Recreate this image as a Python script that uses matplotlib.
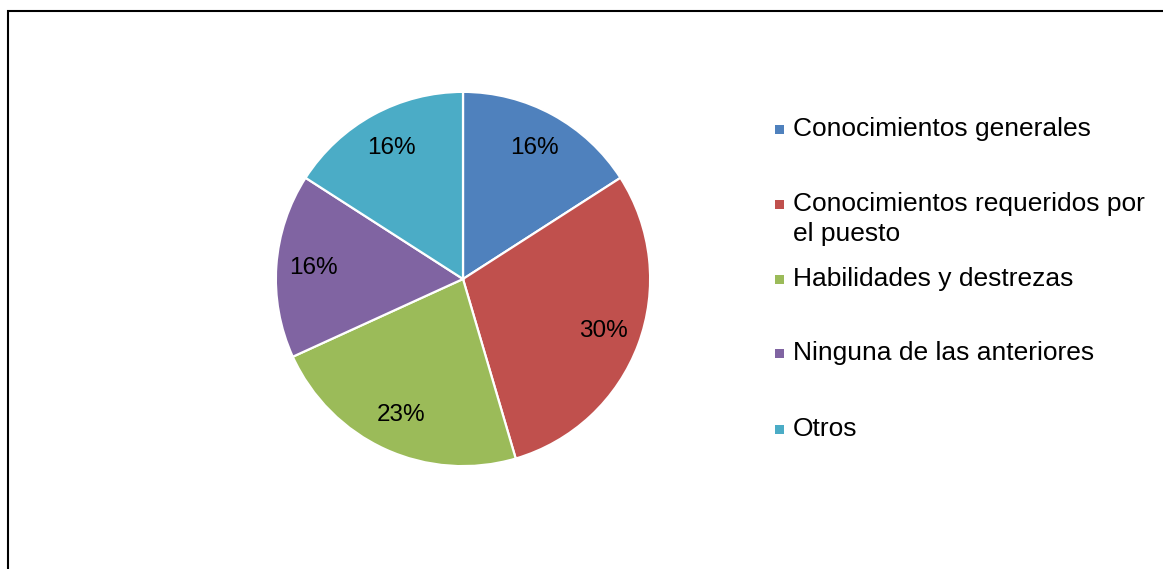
import matplotlib
matplotlib.use("Agg")
import matplotlib.pyplot as plt
from matplotlib.patches import Rectangle

categories = ["Conocimientos generales",
              "Conocimientos requeridos por\nel puesto",
              "Habilidades y destrezas",
              "Ninguna de las anteriores",
              "Otros"]
counts = [7, 13, 10, 7, 7]
colors = ["#4F81BD", "#C0504D", "#9BBB59", "#8064A2", "#4BACC6"]

W, H = 1163, 569
plt.rcParams['font.family'] = ['Liberation Sans', 'DejaVu Sans']
fig = plt.figure(figsize=(W / 100, H / 100), dpi=100)

# Frame around chart area (extends beyond right/bottom edges)
fig.patches.append(Rectangle((7.5 / W, -0.05), 1.2, (H - 10.5) / H + 0.05,
                             transform=fig.transFigure, fill=False,
                             edgecolor='black', linewidth=1.5, clip_on=False))

cx, cy, R = 463, 279, 189
ax = fig.add_axes([(cx - R) / W, (H - cy - R) / H, 2 * R / W, 2 * R / H])
wedges, texts, autotexts = ax.pie(
    counts, colors=colors, startangle=90, counterclock=False,
    autopct=lambda p: f"{p:.0f}%", pctdistance=0.8, radius=1,
    wedgeprops=dict(edgecolor='white', linewidth=1.6),
    textprops=dict(fontsize=17.5, color='black'))
ax.set_xlim(-1.01, 1.01)
ax.set_ylim(-1.01, 1.01)
ax.set_aspect('equal')
ax.axis('off')

# Legend (manual layout, Excel style)
entry_y = [129, 204, 279, 353, 429]
line_gap = 30
for lab, col, y in zip(categories, colors, entry_y):
    fig.patches.append(Rectangle((775 / W, 1 - (y + 4.5) / H), 9 / W, 9 / H,
                                 transform=fig.transFigure, facecolor=col,
                                 edgecolor='none'))
    for i, line in enumerate(lab.split("\n")):
        fig.text(793 / W, 1 - (y + i * line_gap) / H, line, fontsize=19,
                 va='center', ha='left', color='black')

fig.savefig("out.png", dpi=100)
